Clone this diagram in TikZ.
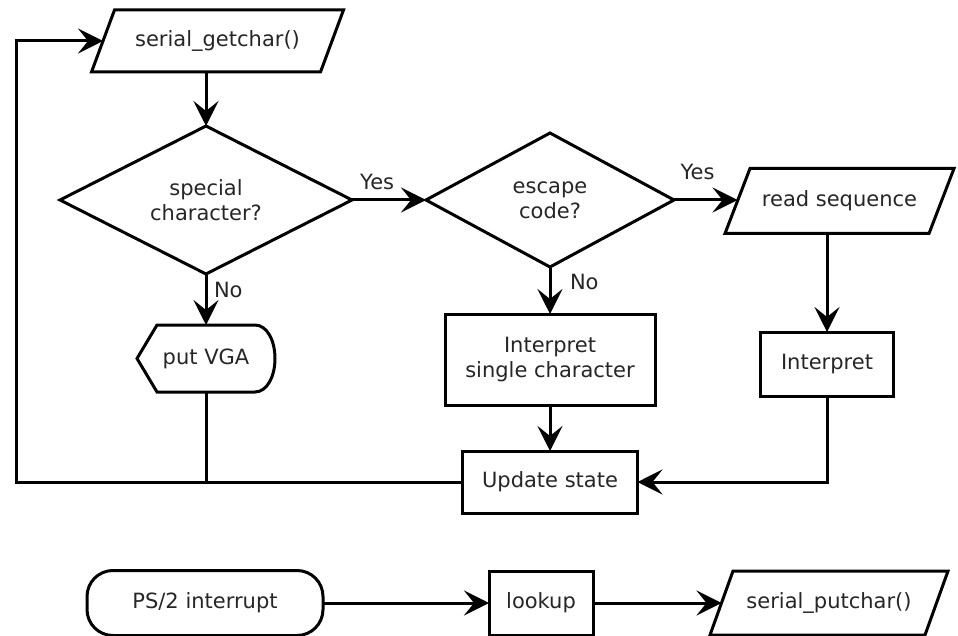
\documentclass[tikz,border=0pt]{standalone}
\usepackage{fontspec}
\setmainfont{DejaVu Sans}
\usetikzlibrary{arrows.meta,shapes.geometric,calc}
\newcommand\paraoutline[2]{\draw ([xshift=#2]#1.north west) -- ([xshift=#2]#1.north east) -- ([xshift=-#2]#1.south east) -- ([xshift=-#2]#1.south west) -- cycle;}
\begin{document}
\begin{tikzpicture}[x=1pt,y=-1pt,
  line width=3pt,
  every node/.style={font=\fontsize{21pt}{25pt}\selectfont, text=black!85, align=center, inner sep=0pt, outer sep=0pt},
  box/.style={draw, rectangle},
  hidden/.style={rectangle},
  decision/.style={draw, diamond, inner sep=0pt},
  arr/.style={-{Stealth[length=25pt,width=25pt,inset=10pt]}},
  lbl/.style={}]
\fill[white] (0,0) rectangle (958,636);
\useasboundingbox (0,0) rectangle (958,636);

% nodes
\node[hidden, minimum width=229pt, minimum height=62pt] (gc) at (217.5,41) {serial\_getchar()};
\paraoutline{gc}{11.5pt}

\node[decision, minimum width=292pt, minimum height=148pt] (d1) at (206,200) {};
\node (d1t) at (d1.center) {special\\character?};

\node[decision, minimum width=248pt, minimum height=134pt] (d2) at (550,200) {};
\node (d2t) at (d2.center) {escape\\code?};

\node[hidden, minimum width=204pt, minimum height=65pt] (rs) at (839.5,201) {read sequence};
\paraoutline{rs}{12.5pt}

\node[hidden, minimum width=138pt, minimum height=67pt] (vga) at (206,358.5) {put VGA};
\draw (vga.west) -- ([xshift=20pt]vga.north west) -- ([xshift=-20pt]vga.north east)
  .. controls ([xshift=-8pt]vga.north east) and ([yshift=18pt]vga.east) .. (vga.east)
  .. controls ([yshift=-18pt]vga.east) and ([xshift=-8pt]vga.south east) .. ([xshift=-20pt]vga.south east)
  -- ([xshift=20pt]vga.south west) -- cycle;

\node[box, minimum width=210pt, minimum height=91pt] (isc) at (550,359.5) {Interpret\\single character};
\node[box, minimum width=133pt, minimum height=64pt] (interp) at (827,364) {Interpret};
\node[box, minimum width=175pt, minimum height=62pt] (us) at (550,482) {Update state};

\node[draw, rectangle, rounded corners=26pt, minimum width=236pt, minimum height=65pt] (ps2) at (205,603) {PS/2 interrupt};
\node[box, minimum width=104pt, minimum height=64pt] (lookup) at (541,603) {lookup};
\node[hidden, minimum width=215pt, minimum height=64pt] (sp) at (829,603) {serial\_putchar()};
\paraoutline{sp}{11.5pt}

\coordinate (lx) at (16,482);

% connectors
\draw[arr] (gc.south -| d1.north) -- (d1.north);
\draw[arr] (d1.east) -- node[pos=0.34, yshift=18pt] {Yes} (d2.west);
\draw[arr] (d1.south) -- node[pos=0.31, anchor=west, xshift=8pt] {No} (vga.north);
\draw (vga.south) -- (vga.south |- us.west);
\draw[arr] (us.west) -- (lx) |- (gc.west);
\draw[arr] (d2.east) -- node[pos=0.37, yshift=28pt] {Yes} (d2.east -| rs.west);
\draw[arr] (d2.south) -- node[pos=0.32, anchor=west, xshift=20pt] {No} (isc.north);
\draw[arr] (rs.south -| interp.north) -- (interp.north);
\draw[arr] (isc.south) -- (us.north);
\draw[arr] (interp.south) |- (us.east);
\draw[arr] (ps2.east) -- (lookup.west);
\draw[arr] (lookup.east) -- (sp.west);
\end{tikzpicture}
\end{document}
